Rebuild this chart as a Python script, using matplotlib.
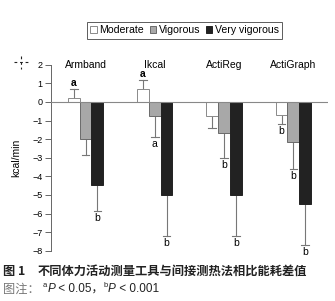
import matplotlib
matplotlib.use('Agg')
from matplotlib import pyplot as plt
from matplotlib.lines import Line2D
from matplotlib.patches import Patch
import numpy as np

plt.rcParams['font.family'] = ['Liberation Sans', 'Noto Sans CJK SC', 'DejaVu Sans']

devices = ['Armband', 'Ikcal', 'ActiReg', 'ActiGraph']
series = ['Moderate', 'Vigorous', 'Very vigorous']
moderate = [0.2, 0.67, -0.74, -0.68]
vigorous = [-1.97, -0.76, -1.65, -2.14]
very_vigorous = [-4.47, -5.0, -5.0, -5.49]
moderate_err = [0.47, 0.5, 0.64, 0.52]
vigorous_err = [0.86, 1.11, 1.35, 1.46]
very_vigorous_err = [1.4, 2.2, 2.2, 2.19]
# significance marks per device: (moderate, vigorous, very vigorous)
marks = [('a', '', 'b'), ('a', 'a', 'b'), ('', 'b', 'b'), ('b', 'b', 'b')]

colors = ['white', '#a8a8a8', '#222222']
edges = ['#8a8a8a', '#6a6a6a', '#222222']

fig = plt.figure(figsize=(3.35, 3.01), dpi=100)
ax = fig.add_axes([0.152, 0.167, 0.827, 0.618])

x = np.arange(len(devices))
w = 0.17
vals = [moderate, vigorous, very_vigorous]
errs = [moderate_err, vigorous_err, very_vigorous_err]
for i in range(3):
    xs = x + (i - 1) * w
    ax.bar(xs, vals[i], w, color=colors[i], edgecolor=edges[i], linewidth=0.7, zorder=2)
    for j in range(len(devices)):
        v = vals[i][j]
        e = errs[i][j]
        end = v + e if v > 0 else v - e
        ax.plot([xs[j], xs[j]], [v, end], color='#777777', lw=0.8, zorder=1)
        ax.plot([xs[j] - 0.055, xs[j] + 0.055], [end, end], color='#777777', lw=0.8, zorder=1)
        m = marks[j][i]
        if m:
            if v > 0:
                ax.text(xs[j], end + 0.08, m, ha='center', va='bottom', fontsize=7.5,
                        fontweight='bold')
            else:
                ax.text(xs[j], end - 0.12, m, ha='center', va='top', fontsize=7.5)

ax.axhline(0, color='#888888', lw=0.8, zorder=3)
for j, d in enumerate(devices):
    ax.text(x[j], 2.0, d, ha='center', va='center', fontsize=7.5)

ax.set_xlim(-0.5, 3.5)
ax.set_ylim(-8, 2)
ax.set_yticks(range(-8, 3))
ax.set_yticklabels([str(t).replace('-', '\u2212') for t in range(-8, 3)])
ax.tick_params(axis='y', labelsize=6.5, length=4, width=0.7, color='#666666', pad=2)
ax.set_xticks([])
for s in ['top', 'right', 'bottom']:
    ax.spines[s].set_visible(False)
ax.spines['left'].set_color('#666666')
ax.spines['left'].set_linewidth(0.7)
ax.set_ylabel('kcal/min', fontsize=7.5, labelpad=8)
ax.patch.set_alpha(0)

handles = [Patch(facecolor=colors[i], edgecolor=edges[i], linewidth=0.7) for i in range(3)]
leg = fig.legend(handles, series, loc='center', bbox_to_anchor=(0.551, 0.899), ncol=3,
                 fontsize=7.6, frameon=True, fancybox=False, handlelength=0.6,
                 handleheight=0.6, handletextpad=0.25, columnspacing=0.55,
                 borderpad=0.3, borderaxespad=0)
leg.get_frame().set_edgecolor('#333333')
leg.get_frame().set_linewidth(0.7)

# cursor mark at top left
fig.add_artist(Line2D([14 / 335, 28 / 335], [1 - 62 / 301, 1 - 62 / 301], color='#222222',
                      lw=0.8, ls=(0, (2.5, 2.5))))
fig.add_artist(Line2D([21 / 335, 21 / 335], [1 - 56 / 301, 1 - 69 / 301], color='#222222',
                      lw=0.8, ls=(0, (2.5, 2.5))))

cjk = ['Noto Sans CJK SC']
fig.text(0.01, 1 - 271 / 301, '图 1', fontsize=8.8, va='center', color='#222222',
         family=cjk, fontweight='bold')
fig.text(38 / 335, 1 - 271 / 301, '不同体力活动测量工具与间接测热法相比能耗差值', fontsize=8.8,
         va='center', color='#222222', family=cjk, fontweight='bold')
fig.text(0.01, 1 - 289 / 301, '图注：', fontsize=8.8, va='center', color='#777777',
         family=cjk)

# note line: pieces placed one after another
pieces = [('a', 5.5, 'normal', 3.5), ('P', 8.5, 'italic', 0), (' < 0.05，', 8.5, 'normal', 0),
          ('b', 5.5, 'normal', 3.5), ('P', 8.5, 'italic', 0), (' < 0.001', 8.5, 'normal', 0)]
renderer = fig.canvas.get_renderer()
xpos = 43
base = 301 - 289
for txt, size, style, rise in pieces:
    t = fig.text(xpos / 335, (base + rise) / 301, txt, fontsize=size, style=style,
                 va='center', color='#222222',
                 family=['Liberation Sans', 'Noto Sans CJK SC'])
    bb = t.get_window_extent(renderer)
    xpos += bb.width

fig.savefig('out.png', dpi=100)
